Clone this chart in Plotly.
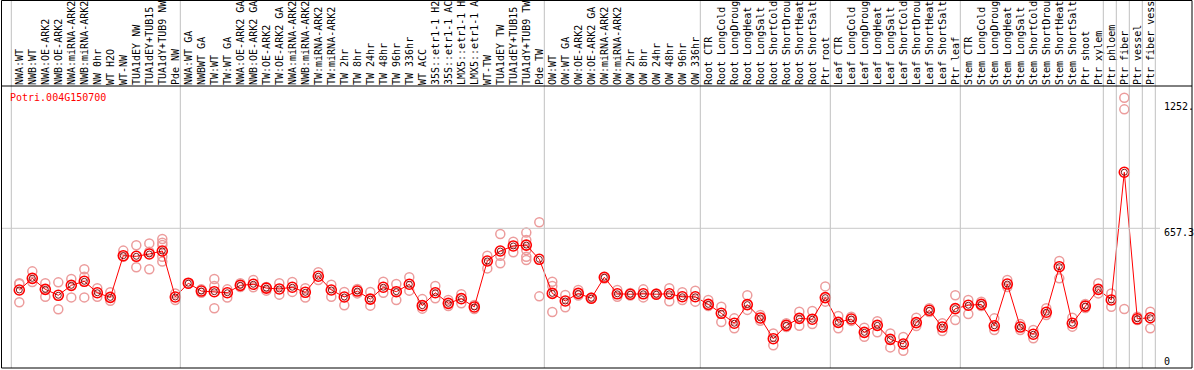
import plotly.graph_objects as go

labels = [
    "NWA:WT", "NWB:WT", "NWA:OE-ARK2", "NWB:OE-ARK2", "NWA:miRNA-ARK2", "NWB:miRNA-ARK2",
    "NW 0hr", "WT H2O", "WT-NW", "TUA1dEY NW", "TUA1dEY+TUB15", "TUA1dY+TUB9 NW", "Pde NW",
    "NWA:WT GA", "NWBWT GA", "TW:WT", "TW:WT GA", "NWA:OE-ARK2 GA", "NWB:OE-ARK2 GA",
    "TW:OE-ARK2", "TW:OE-ARK2 GA", "NWA:miRNA-ARK2", "NWB:miRNA-ARK2", "TW:miRNA-ARK2",
    "TW:miRNA-ARK2", "TW 2hr", "TW 8hr", "TW 24hr", "TW 48hr", "TW 96hr", "TW 336hr",
    "WT ACC", "35S::etr1-1 H2O", "35S::etr1-1 ACC", "LMX5::etr1-1 H2O", "LMX5::etr1-1 ACC",
    "WT-TW", "TUA1dEY TW", "TUA1dEY+TUB15", "TUA1dY+TUB9 TW", "Pde TW",
    "OW:WT", "OW:WT GA", "OW:OE-ARK2", "OW:OE-ARK2 GA", "OW:miRNA-ARK2", "OW:miRNA-ARK2",
    "OW 2hr", "OW 8hr", "OW 24hr", "OW 48hr", "OW 96hr", "OW 336hr",
    "Root CTR", "Root LongCold", "Root LongDrought", "Root LongHeat", "Root LongSalt",
    "Root ShortCold", "Root ShortDrought", "Root ShortHeat", "Root ShortSalt", "Ptr root",
    "Leaf CTR", "Leaf LongCold", "Leaf LongDrought", "Leaf LongHeat", "Leaf LongSalt",
    "Leaf ShortCold", "Leaf ShortDrought", "Leaf ShortHeat", "Leaf ShortSalt", "Ptr leaf",
    "Stem CTR", "Stem LongCold", "Stem LongDrought", "Stem LongHeat", "Stem LongSalt",
    "Stem ShortCold", "Stem ShortDrought", "Stem ShortHeat", "Stem ShortSalt",
    "Ptr shoot", "Ptr xylem", "Ptr phloem", "Ptr fiber", "Ptr vessel", "Ptr fiber vessel",
]

means = [
    366, 421, 369, 341, 388, 407, 353, 331, 528, 525, 536, 550, 333,
    398, 361, 358, 353, 388, 393, 375, 371, 379, 355, 431, 366, 333, 361, 323, 379, 358,
    393, 292, 353, 303, 325, 286, 503, 550, 574, 578, 511,
    350, 314, 350, 327, 426, 348, 346, 348, 346, 348, 334, 334,
    298, 256, 209, 297, 234, 136, 199, 232, 228, 330,
    213, 229, 166, 199, 133, 111, 212, 270, 191, 278,
    294, 298, 197, 394, 191, 157, 261, 476, 209, 290, 369, 319, 922, 230, 235,
]

replicates = [
    [398, 394, 308], [454, 404], [398, 334], [402, 275], [418, 331], [464, 429, 331],
    [374, 334], [355, 315], [552, 523], [577, 473], [586, 547, 464], [607, 589, 578, 523, 500],
    [350, 319],
    [398, 395], [369, 353], [418, 385, 280], [369, 330], [398, 380], [413, 379], [363, 380],
    [398, 344], [404, 357], [374, 330], [450, 413], [391, 334], [357, 294], [371, 350],
    [357, 292], [405, 353], [394, 319], [426, 363], [323, 278], [385, 327], [319, 290],
    [346, 303], [295, 276], [528, 468], [630, 528, 492], [594, 544], [637, 602, 555, 523, 508],
    [686, 336],
    [405, 385, 262], [342, 284], [366, 340], [325, 330], [426, 420], [366, 334], [340, 352],
    [369, 331], [343, 350], [374, 313], [355, 319], [363, 311],
    [319, 290], [287, 215], [232, 185], [341, 272], [248, 221], [161, 105], [209, 191],
    [263, 197], [267, 205], [383, 311],
    [243, 185], [240, 220], [188, 145], [218, 166], [161, 95], [144, 79], [235, 196],
    [280, 262], [209, 172], [341, 224],
    [319, 253], [311, 290], [232, 177], [413, 380], [205, 177], [177, 138], [280, 248],
    [503, 421], [235, 193], [300, 281], [398, 350], [350, 287], [1274, 1219, 276],
    [240, 224], [263, 185],
]

group_starts = [0, 13, 41, 53, 63, 73, 84, 85, 86, 87, 88]
gene = "Potri.004G150700"
y_ticks = [0, 657.3, 1252.4]
y_ticktext = ["0", "657.3", "1252."]

FONT = "DejaVu Sans Mono"
W, H = 1194, 370
x_idx = list(range(len(labels)))
shown_labels = [s[:14] for s in labels]  # header column only fits 14 characters

rep_x, rep_y = [], []
for i, reps in enumerate(replicates):
    for v in reps:
        rep_x.append(i)
        rep_y.append(v)

fig = go.Figure()
fig.add_trace(go.Scatter(
    x=rep_x, y=rep_y, mode="markers",
    marker=dict(symbol="circle-open", size=9, color="#EC9C9C", line=dict(width=1.5)),
    hoverinfo="skip", showlegend=False,
))
fig.add_trace(go.Scatter(
    x=x_idx, y=means, mode="lines+markers",
    line=dict(color="#FF0000", width=1),
    marker=dict(symbol="circle-open", size=10, color="#FF0000", line=dict(width=1.6)),
    showlegend=False,
))
fig.add_trace(go.Scatter(
    x=x_idx, y=means, mode="markers",
    marker=dict(symbol="circle-open", size=6, color="#700000", line=dict(width=0.9)),
    hoverinfo="skip", showlegend=False,
))

def py(p):
    return (H - p) / H

shapes = []
for g in group_starts:
    shapes.append(dict(type="line", xref="x", yref="paper", x0=g - 0.615, x1=g - 0.615,
                       y0=py(368), y1=1, line=dict(color="#C0C0C0", width=1)))
shapes.append(dict(type="line", xref="paper", yref="y", x0=2 / W, x1=1160 / W,
                   y0=y_ticks[1], y1=y_ticks[1], line=dict(color="#C8C8C8", width=1)))
shapes.append(dict(type="rect", xref="paper", yref="paper", x0=1.5 / W, x1=1192 / W,
                   y0=py(368), y1=py(0.5), line=dict(color="#000000", width=1)))
shapes.append(dict(type="line", xref="paper", yref="paper", x0=1.5 / W, x1=1192 / W,
                   y0=py(86), y1=py(86), line=dict(color="#000000", width=1)))

annotations = [dict(text=gene, xref="paper", yref="paper", x=8 / W, y=py(97),
                    xanchor="left", yanchor="middle", showarrow=False,
                    font=dict(family=FONT, size=10, color="#FF0000"))]
shifts = [6, -4, -4]
for v, t, s in zip(y_ticks, y_ticktext, shifts):
    annotations.append(dict(text=t, xref="paper", yref="y", x=1162 / W, y=v, yshift=s,
                            xanchor="left", yanchor="middle", showarrow=False,
                            font=dict(family=FONT, size=10, color="#000000")))

ymin = (367.5 - 370) * 4.722
ymax = (367.5 - 86) * 4.722

fig.update_layout(
    width=W, height=H, margin=dict(l=0, r=0, t=0, b=0),
    paper_bgcolor="white", plot_bgcolor="white",
    xaxis=dict(range=[(0 - 19.3) / 13, (W - 19.3) / 13], side="top",
               tickvals=x_idx, ticktext=shown_labels, tickangle=-90,
               tickfont=dict(family=FONT, size=10, color="#000000"),
               showgrid=False, zeroline=False, showline=False, ticks="",
               automargin=False, fixedrange=True),
    yaxis=dict(range=[ymin, ymax], domain=[0, py(86)], showgrid=False, zeroline=False,
               showline=False, showticklabels=False, ticks="", fixedrange=True),
    shapes=shapes, annotations=annotations,
)

fig.write_html("out.html", config={"displayModeBar": False},
               post_script="document.body.style.margin='0';document.body.style.overflow='hidden';")
